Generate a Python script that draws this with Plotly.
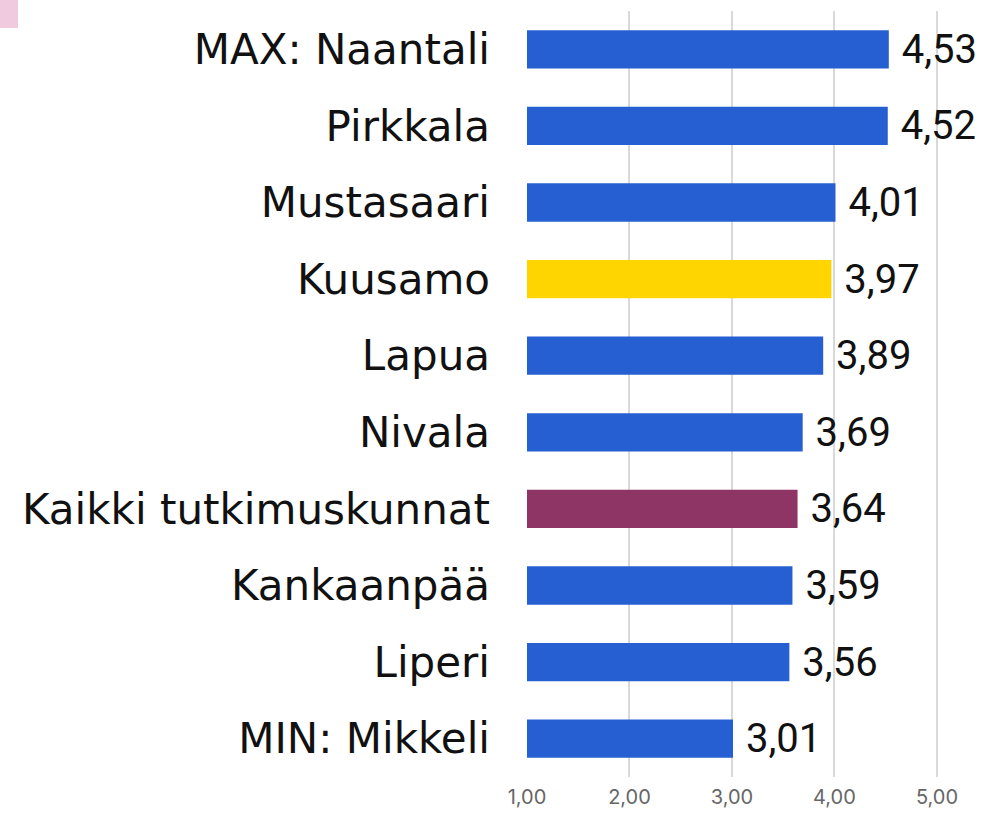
import plotly.graph_objects as go

categories = ["MAX: Naantali", "Pirkkala", "Mustasaari", "Kuusamo", "Lapua",
              "Nivala", "Kaikki tutkimuskunnat", "Kankaanpää", "Liperi", "MIN: Mikkeli"]
values = [4.53, 4.52, 4.01, 3.97, 3.89, 3.69, 3.64, 3.59, 3.56, 3.01]
colors = ["#265fd2", "#265fd2", "#265fd2", "#ffd500", "#265fd2",
          "#265fd2", "#8f3566", "#265fd2", "#265fd2", "#265fd2"]
tick_vals = [1, 2, 3, 4, 5]
tick_text = ["1,00", "2,00", "3,00", "4,00", "5,00"]

labels = [" " + f"{v:.2f}".replace(".", ",") for v in values]

L, R, T, B = 527, 4, 11, 38
W, H = 984, 815
pw, ph = W - L - R, H - T - B

fig = go.Figure(go.Bar(
    y=categories, x=[v - 1 for v in values], base=1, orientation="h",
    marker=dict(color=colors, line=dict(width=0)),
    width=0.5,
    text=labels, textposition="outside", cliponaxis=False,
    constraintext="none",
    textfont=dict(family="Roboto", size=40, color="#111111"),
    hoverinfo="skip",
))

fig.update_layout(
    width=W, height=H,
    margin=dict(l=L, r=R, t=T, b=B, autoexpand=False),
    plot_bgcolor="white", paper_bgcolor="white",
    showlegend=False,
    xaxis=dict(range=[1, 5.42], tickvals=tick_vals, ticktext=tick_text,
               showgrid=True, gridcolor="#d9d9d9", gridwidth=1.5,
               zeroline=False, showline=False, automargin=False,
               ticklabelstandoff=6,
               tickfont=dict(family="Inter", size=20, color="#666666")),
    yaxis=dict(autorange="reversed", showgrid=False, zeroline=False,
               automargin=False, ticklabelstandoff=36,
               tickfont=dict(family="DejaVu Sans", size=42, color="#111111")),
    shapes=[dict(type="rect", xref="paper", yref="paper",
                 x0=-L / pw, x1=(-L + 18) / pw,
                 y0=1 + (T - 28) / ph, y1=1 + T / ph,
                 fillcolor="#f0cadf", line=dict(width=0), layer="below")],
)
fig.write_html("out.html", config={"displayModeBar": False},
               post_script="document.body.style.margin='0';document.body.style.overflow='hidden';")
